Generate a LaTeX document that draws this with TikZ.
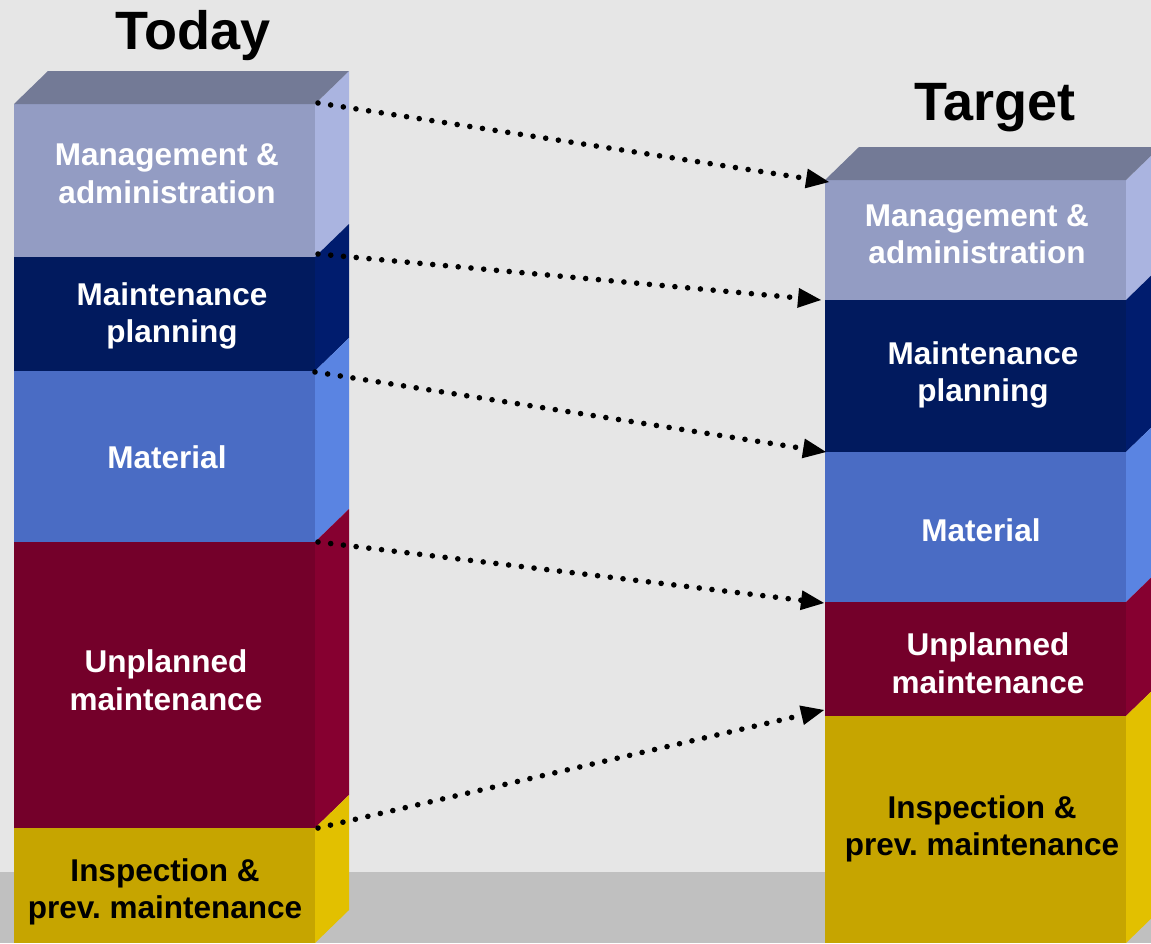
\documentclass[tikz,border=0pt]{standalone}
\usepackage{fontspec}
\setmainfont{Liberation Sans}
\usetikzlibrary{arrows.meta}
\frenchspacing
\definecolor{bg}{HTML}{E6E6E6}
\definecolor{floor}{HTML}{C0C0C0}
\definecolor{topc}{HTML}{737A96}
\definecolor{mgF}{HTML}{939CC3}
\definecolor{mgS}{HTML}{AAB4E0}
\definecolor{plF}{HTML}{011A5E}
\definecolor{plS}{HTML}{001C6E}
\definecolor{maF}{HTML}{4A6CC4}
\definecolor{maS}{HTML}{5A84E2}
\definecolor{unF}{HTML}{74002A}
\definecolor{unS}{HTML}{860030}
\definecolor{inF}{HTML}{C6A500}
\definecolor{inS}{HTML}{E2C000}
\begin{document}
\begin{tikzpicture}[x=1pt,y=-1pt,
  front/.style={draw=none, minimum width=301pt, inner sep=0pt, outer sep=0pt, anchor=north west},
  lbl/.style={font=\bfseries\fontsize{31.5}{37.5}\selectfont, align=center, text=white, inner sep=0pt},
  ttl/.style={font=\bfseries\fontsize{54}{60}\selectfont, inner sep=0pt},
  dotarrow/.style={line width=5.6pt, line cap=round, dash pattern=on 0pt off 12.8pt,
    -{Triangle[length=23pt,width=20pt,line width=0pt]}}
]
\useasboundingbox (0,0) rectangle (1151,943);
\clip (0,0) rectangle (1151,943);
\fill[bg] (0,0) rectangle (1151,943);
\fill[floor] (0,872) rectangle (1151,943);

% ---------- left column (Today)
\node[front, fill=mgF, minimum height=153pt] (lmg) at (14,104) {};
\node[front, fill=plF, minimum height=114pt] (lpl) at (14,257) {};
\node[front, fill=maF, minimum height=171pt] (lma) at (14,371) {};
\node[front, fill=unF, minimum height=286pt] (lun) at (14,542) {};
\node[front, fill=inF, minimum height=115pt] (lin) at (14,828) {};
\foreach \n/\c in {lmg/mgS, lpl/plS, lma/maS, lun/unS, lin/inS}{
  \fill[\c] (\n.south east) -- ++(34,-33) -- ([shift={(34,-33)}]\n.north east) -- (\n.north east) -- cycle;
}
\fill[topc] (lmg.north west) -- ++(34,-33) -- ([shift={(34,-33)}]lmg.north east) -- (lmg.north east) -- cycle;

% ---------- right column (Target)
\node[front, fill=mgF, minimum height=120pt] (rmg) at (825,180) {};
\node[front, fill=plF, minimum height=152pt] (rpl) at (825,300) {};
\node[front, fill=maF, minimum height=150pt] (rma) at (825,452) {};
\node[front, fill=unF, minimum height=114pt] (run) at (825,602) {};
\node[front, fill=inF, minimum height=227pt] (rin) at (825,716) {};
\foreach \n/\c in {rmg/mgS, rpl/plS, rma/maS, run/unS, rin/inS}{
  \fill[\c] (\n.south east) -- ++(34,-33) -- ([shift={(34,-33)}]\n.north east) -- (\n.north east) -- cycle;
}
\fill[topc] (rmg.north west) -- ++(34,-33) -- ([shift={(34,-33)}]rmg.north east) -- (rmg.north east) -- cycle;

% ---------- titles
\node[ttl] (today) at (193,36) {Today};
\node[ttl] (target) at (995,108) {Target};

% ---------- labels
\node[lbl] (tlmg) at (167,174) {Management \&\\administration};
\node[lbl] (tlpl) at (172,316) {Maintenance\\planning};
\node[lbl] (tlma) at (167,457) {Material};
\node[lbl] (tlun) at (166,680) {Unplanned\\maintenance};
\node[lbl, text=black] (tlin) at (165,892) {Inspection \&\\prev.\ maintenance};

\node[lbl] (trmg) at (977,234) {Management \&\\administration};
\node[lbl] (trpl) at (983,375) {Maintenance\\planning};
\node[lbl] (trma) at (981,530) {Material};
\node[lbl] (trun) at (988,663) {Unplanned\\maintenance};
\node[lbl, text=black] (trin) at (982,829) {Inspection \&\\prev.\ maintenance};

% ---------- arrows
\draw[dotarrow] ([shift={(3,-1)}]lmg.north east) -- ([shift={(4,2)}]rmg.north west);
\draw[dotarrow] ([shift={(3,-3)}]lpl.north east) -- ([shift={(-4,0)}]rpl.north west);
\draw[dotarrow] ([shift={(0,1)}]lma.north east) -- ([shift={(1,0)}]rma.north west);
\draw[dotarrow] ([shift={(3,0)}]lun.north east) -- ([shift={(-1,1)}]run.north west);
\draw[dotarrow] ([shift={(3,0)}]lin.north east) -- ([shift={(-1,-6)}]rin.north west);
\end{tikzpicture}
\end{document}
